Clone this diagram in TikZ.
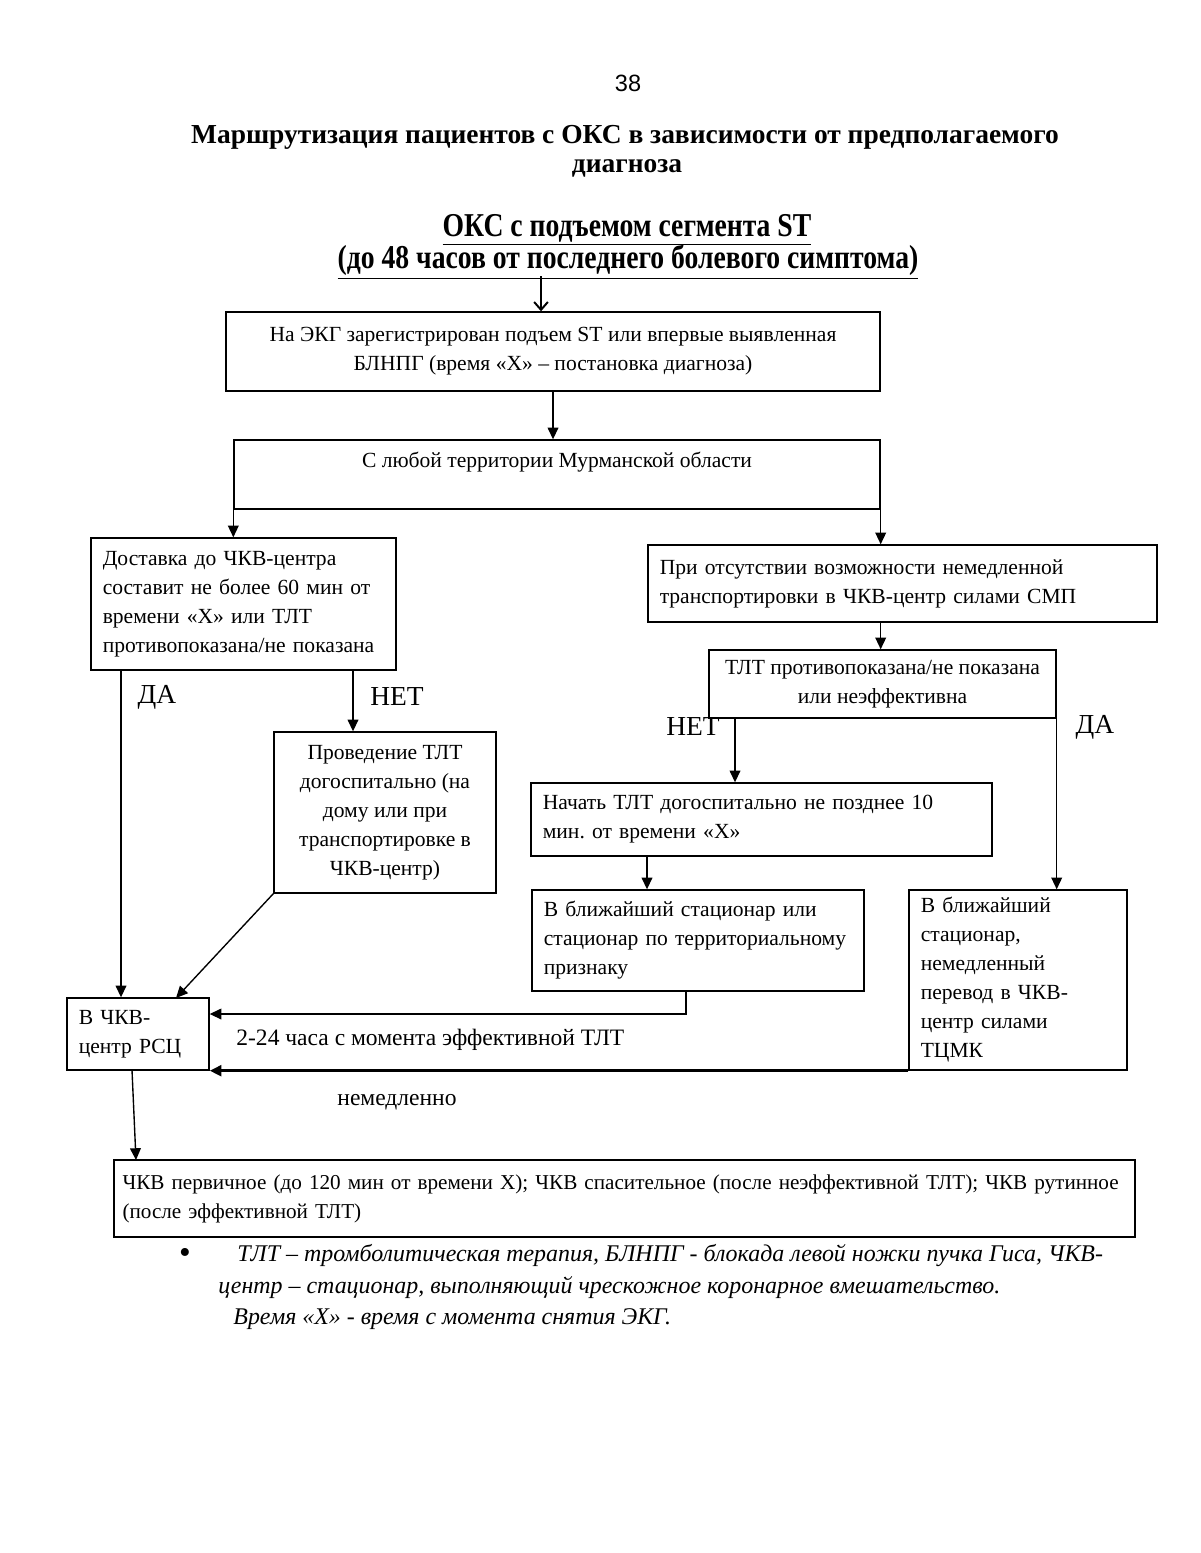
\documentclass[tikz,border=0pt]{standalone}
\usepackage{fontspec}
\setmainfont{Liberation Serif}
\setsansfont{Liberation Sans}
\usetikzlibrary{arrows.meta}
\frenchspacing
\begin{document}
\begin{tikzpicture}[x=0.51pt,y=-0.51pt]
   \tikzset{box/.style = {draw,line width=0.7pt,inner sep=0pt,font=\fontsize{11}{14.8}\selectfont},
            cbox/.style = {box,align=center},
            lbox/.style = {box,align=left,inner xsep=6pt},
            arr/.style = {line width=0.7pt,-{Triangle[length=6pt,width=5.5pt]}},
            lbl/.style = {font=\fontsize{14}{16}\selectfont,inner sep=0pt}}
   \useasboundingbox (0,0) rectangle (1200,1553);

   % headings
   \node (pg) at (628,83) {\sffamily\fontsize{12}{14}\selectfont 38};
   \node[font=\bfseries\fontsize{14}{17}\selectfont] (ttl1) at (625,137) {Маршрутизация пациентов с ОКС в зависимости от предполагаемого};
   \node[font=\bfseries\fontsize{14}{17}\selectfont] (ttl2) at (627,168) {диагноза};
   \node[font=\bfseries\fontsize{17}{20}\selectfont] (stemi1) at (627,230) {\scalebox{0.83}[1]{\underline{ОКС с подъемом сегмента ST}}};
   \node[font=\bfseries\fontsize{17}{20}\selectfont] (stemi2) at (628,262) {\scalebox{0.83}[1]{\underline{(до 48 часов от последнего болевого симптома)}}};

   % boxes
   \node[cbox,minimum width=333.54pt,minimum height=40.29pt] (ecg) at (553,351.5) {На ЭКГ зарегистрирован подъем ST или впервые выявленная\\БЛНПГ (время «Х» – постановка диагноза)};
   \node[box,minimum width=329.46pt,minimum height=35.19pt] (terr) at (557,474.5) {};
   \node[font=\fontsize{11}{14.8}\selectfont] (terrtxt) at (557,462) {С любой территории Мурманской области};
   \node[lbox,minimum width=155.55pt,minimum height=67.32pt,text width=143.55pt] (dlv) at (243.5,604) {Доставка до ЧКВ-центра\\составит не более 60 мин от\\времени «Х» или ТЛТ\\противопоказана/не показана};
   \node[lbox,minimum width=259.59pt,minimum height=39.27pt,text width=247.59pt] (nosmp) at (902.5,583.5) {При отсутствии возможности немедленной\\транспортировки в ЧКВ-центр силами СМП};
   \node[cbox,minimum width=176.97pt,minimum height=34.68pt] (tltq) at (882.5,684) {ТЛТ противопоказана/не показана\\или неэффективна};
   \node[cbox,minimum width=113.22pt,minimum height=82.11pt] (pretlt) at (385,812.5) {Проведение ТЛТ\\догоспитально (на\\дому или при\\транспортировке в\\ЧКВ-центр)};
   \node[lbox,minimum width=235.11pt,minimum height=37.23pt,text width=223.11pt] (start) at (761.5,819.5) {Начать ТЛТ догоспитально не позднее 10\\мин. от времени «Х»};
   \node[lbox,minimum width=169.32pt,minimum height=51.51pt,text width=157.32pt] (near) at (698,940.5) {В ближайший стационар или\\стационар по территориальному\\признаку};
   \node[lbox,minimum width=111.18pt,minimum height=91.8pt,text width=99.18pt] (tcmk) at (1018,980) {В ближайший\\стационар,\\немедленный\\перевод в ЧКВ-\\центр силами\\ТЦМК};
   \node[lbox,minimum width=72.42pt,minimum height=36.72pt,text width=60.42pt] (rsc) at (138,1034) {В ЧКВ-\\центр РСЦ};
   \node[lbox,inner xsep=4.3pt,minimum width=520.71pt,minimum height=39.27pt,text width=512pt,font=\fontsize{10.8}{14.8}\selectfont] (pci) at (624.5,1198.5) {ЧКВ первичное (до 120 мин от времени Х); ЧКВ спасительное (после неэффективной ТЛТ); ЧКВ рутинное\\(после эффективной ТЛТ)};

   % labels
   \node[lbl] (da1) at (157,697) {ДА};
   \node[lbl] (net1) at (397,697) {НЕТ};
   \node[lbl] (net2) at (693,727) {НЕТ};
   \node[lbl] (da2) at (1095,727) {ДА};
   \node[anchor=west,inner sep=0pt,font=\fontsize{12}{14}\selectfont] (hrs) at (236,1040) {2-24 часа с момента эффективной ТЛТ};
   \node[inner sep=0pt,font=\fontsize{12}{14}\selectfont] (imm) at (397,1102) {немедленно};

   % free ends
   \coordinate (hdarr) at (541,276);
   \coordinate (dadown) at (121,670);
   \coordinate (netdown) at (353,670);
   \coordinate (netright) at (735,718);
   \coordinate (startdown) at (647,856);
   \coordinate (neardown) at (686,991);
   \coordinate (diagend) at (176,998);
   \coordinate (rscdown) at (132,1070);
   \coordinate (pcitop) at (136,1160);

   % connectors
   \draw[line width=1pt,-{Straight Barb[length=4pt,width=7pt]}] (hdarr) -- (hdarr |- ecg.north);
   \draw[arr] (ecg.south) -- (ecg.south |- terr.north);
   \draw[arr] (terr.south west) -- (terr.south west |- dlv.north);
   \draw[arr] (terr.south east) -- (terr.south east |- nosmp.north);
   \draw[arr] (nosmp.south -| terr.east) -- (tltq.north -| terr.east);
   \draw[arr] (netdown) -- (netdown |- pretlt.north);
   \draw[arr] (dadown) -- (dadown |- rsc.north);
   \draw[arr] (pretlt.south west) -- (diagend);
   \draw[arr] (netright) -- (netright |- start.north);
   \draw[arr] (tltq.south east) -- (tltq.south east |- tcmk.north);
   \draw[arr] (startdown) -- (startdown |- near.north);
   \draw[arr] (neardown) |- ([yshift=10.2pt]rsc.east);
   \draw[line width=1.4pt,-{Triangle[length=6pt,width=5.5pt]}] (tcmk.south west) -- (tcmk.south west -| rsc.east);
   \draw[arr] (rscdown) -- (pcitop);

   % legend
   \node (bul) at (185,1256) {\fontsize{17}{18}\selectfont\textbullet};
   \node[anchor=west,inner sep=0pt,font=\itshape\fontsize{12.2}{16}\selectfont] (leg1) at (237,1256) {ТЛТ – тромболитическая терапия, БЛНПГ - блокада левой ножки пучка Гиса, ЧКВ-};
   \node[anchor=west,inner sep=0pt,font=\itshape\fontsize{12.2}{16}\selectfont] (leg2) at (218,1288) {центр – стационар, выполняющий чрескожное коронарное вмешательство.};
   \node[anchor=west,inner sep=0pt,font=\itshape\fontsize{12.2}{16}\selectfont] (leg3) at (233,1319) {Время «Х» - время с момента снятия ЭКГ.};
\end{tikzpicture}
\end{document}
